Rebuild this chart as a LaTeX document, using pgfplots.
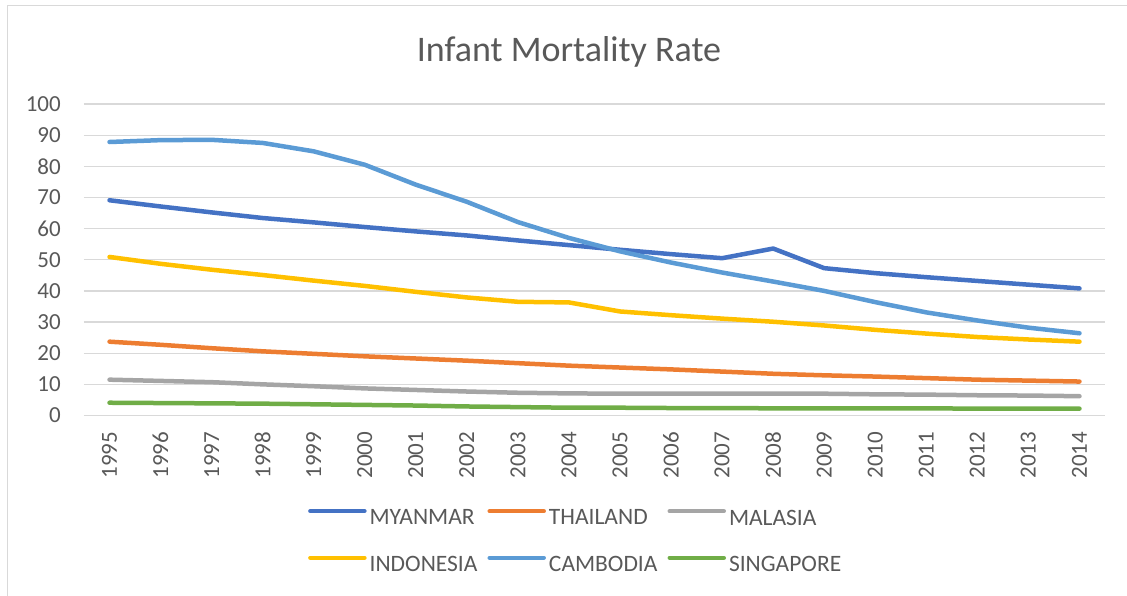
\documentclass[border=0pt]{standalone}
\usepackage{fontspec}
\setmainfont{Carlito}
\usepackage{pgfplots}
\pgfplotsset{compat=1.18}
\usepackage{pgfplotstable}
\definecolor{cmyan}{HTML}{4472C4}
\definecolor{cthai}{HTML}{ED7D31}
\definecolor{cmala}{HTML}{A5A5A5}
\definecolor{cindo}{HTML}{FFC000}
\definecolor{ccamb}{HTML}{5B9BD5}
\definecolor{csing}{HTML}{70AD47}
\definecolor{gridgray}{HTML}{D9D9D9}
\definecolor{txt}{HTML}{595959}

\pgfplotstableread{
year mya tha mal ind cam sin
1995 69.1 23.7 11.5 50.9 87.8 4.1
1996 67.1 22.7 11.1 48.7 88.4 4.0
1997 65.2 21.6 10.7 46.8 88.5 3.9
1998 63.4 20.6 10.0 45.1 87.5 3.8
1999 62.0 19.8 9.4 43.3 84.8 3.6
2000 60.5 19.0 8.7 41.6 80.5 3.4
2001 59.1 18.3 8.2 39.7 74.1 3.2
2002 57.8 17.6 7.7 37.9 68.6 2.9
2003 56.2 16.8 7.3 36.5 62.1 2.7
2004 54.7 16.0 7.1 36.3 57.0 2.5
2005 53.2 15.4 7.0 33.4 52.7 2.5
2006 51.8 14.8 7.0 32.2 49.1 2.4
2007 50.5 14.1 7.0 31.1 45.9 2.4
2008 53.6 13.4 7.0 30.1 43.0 2.3
2009 47.3 12.9 7.0 28.9 40.0 2.3
2010 45.7 12.5 6.8 27.5 36.4 2.3
2011 44.4 12.0 6.7 26.3 33.1 2.3
2012 43.2 11.5 6.5 25.2 30.5 2.2
2013 42.0 11.2 6.4 24.4 28.2 2.2
2014 40.8 10.9 6.2 23.7 26.4 2.2
}\datatable

\begin{document}
\begin{tikzpicture}
\path[use as bounding box] (0pt,0pt) rectangle (1127pt,-596pt);
\draw[gridgray,line width=1pt] (7pt,-610pt) -- (7pt,-6pt) -- (1140pt,-6pt);
\node[anchor=base,text=txt,font=\fontsize{36}{40}\selectfont] at (569pt,-62pt) {Infant Mortality Rate};
\begin{axis}[
  at={(84pt,-415.5pt)}, anchor=south west,
  scale only axis, width=1021pt, height=311.5pt,
  xmin=1994.5, xmax=2014.5, ymin=0, ymax=100,
  xtick={1995,...,2014}, ytick={0,10,...,100},
  ymajorgrids, grid style={draw=gridgray,line width=1.2pt},
  axis line style={draw=none}, major tick length=0pt,
  tick label style={font=\fontsize{23}{26}\selectfont,text=txt,inner sep=0pt},
  /pgf/number format/assume math mode=true,
  xticklabel style={rotate=90,anchor=east,/pgf/number format/1000 sep={}},
  xticklabel shift=16pt, yticklabel shift=23pt,
  legend columns=3,
  legend style={at={(0.4806,-0.4029)},anchor=center,draw=none,fill=none,
    font=\fontsize{23.5}{26}\selectfont,text=txt,inner sep=0pt,
    nodes={inner sep=0pt},row sep=29pt,
    /tikz/every odd column/.append style={column sep=3pt},
    /tikz/every even column/.append style={column sep=10pt}},
  legend cell align=left,
  legend image code/.code={\draw[#1,line cap=round] (0pt,7pt) -- (54pt,7pt);},
  every axis plot/.append style={line width=4.5pt,line join=round,line cap=round},
]
\addplot[cmyan] table[x=year,y=mya] {\datatable};
\addlegendentry{MYANMAR}
\addplot[cthai] table[x=year,y=tha] {\datatable};
\addlegendentry{THAILAND}
\addplot[cmala] table[x=year,y=mal] {\datatable};
\addlegendentry{MALASIA}
\addplot[cindo] table[x=year,y=ind] {\datatable};
\addlegendentry{INDONESIA}
\addplot[ccamb] table[x=year,y=cam] {\datatable};
\addlegendentry{CAMBODIA}
\addplot[csing] table[x=year,y=sin] {\datatable};
\addlegendentry{SINGAPORE}
\end{axis}
\end{tikzpicture}
\end{document}
